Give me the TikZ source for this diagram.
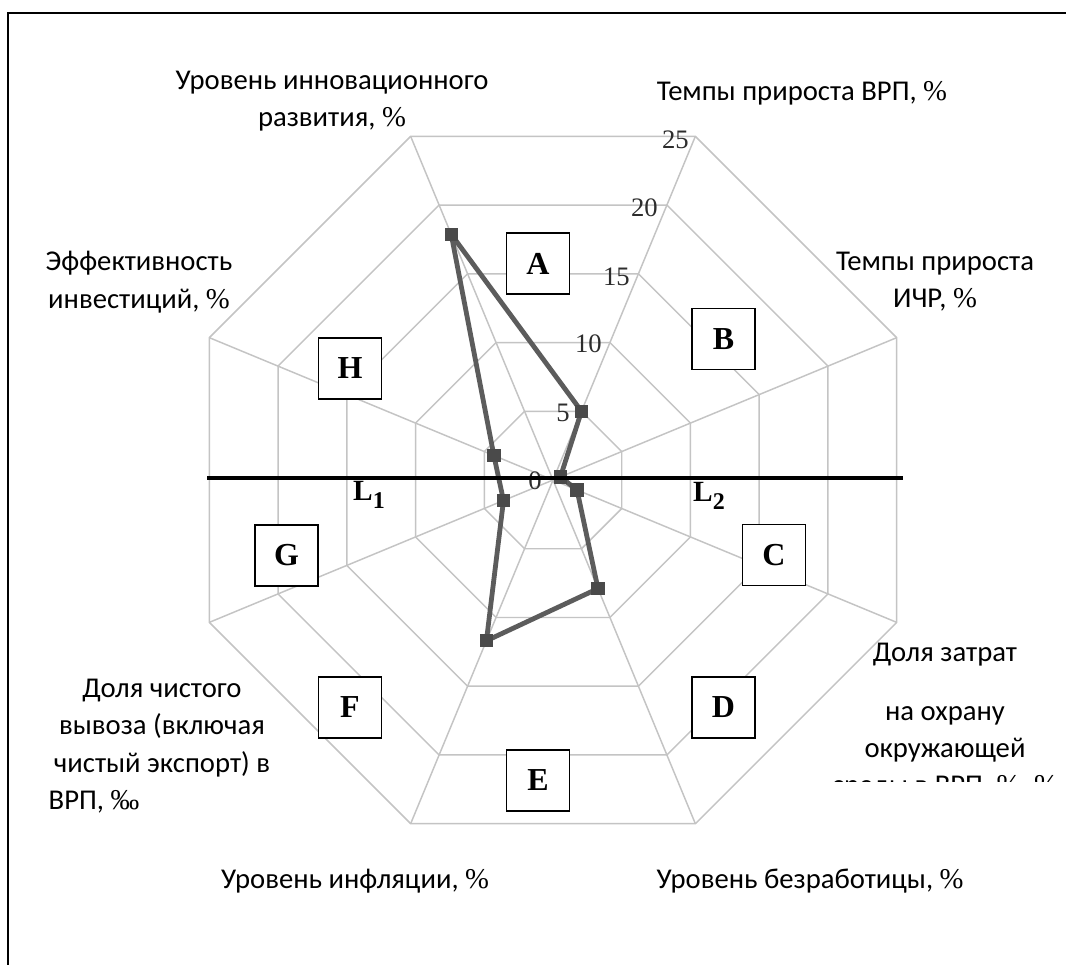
\documentclass[tikz,border=0pt]{standalone}
\usepackage{fontspec}
\setmainfont{Carlito}
\newfontfamily\tnr{Liberation Serif}
\newcommand\pct{{\tnr\%}}
\definecolor{gridc}{RGB}{196,196,196}
\definecolor{datac}{RGB}{92,92,92}
\definecolor{markc}{RGB}{74,74,74}
\definecolor{tickc}{RGB}{45,45,45}
\begin{document}
\begin{tikzpicture}[x=0.75pt,y=-0.75pt,
  gridline/.style={draw=gridc,line width=1.1pt,line join=miter},
  dataline/.style={draw=datac,line width=3.6pt,line join=round},
  mk/.style={rectangle,fill=markc,minimum size=10pt,inner sep=0pt},
  hline/.style={draw=black,line width=3.4pt},
  lbox/.style={rectangle,draw=black,fill=white,line width=1.1pt,minimum width=47pt,minimum height=45.5pt,inner sep=0pt,font=\tnr\bfseries\fontsize{24}{24}\selectfont},
  tick/.style={anchor=east,inner sep=0pt,text=tickc,font=\tnr\fontsize{20}{20}\selectfont},
  lab/.style={align=center,inner sep=0pt,font=\fontsize{21.5}{28}\selectfont},
  llab/.style={inner sep=0pt,font=\tnr\bfseries\fontsize{22}{22}\selectfont}]
\useasboundingbox (0,0) rectangle (1066,965);
\fill[white] (0,0) rectangle (1066,965);
% frame
\draw[line width=1.6pt] (1066,13) -- (8,13) -- (8,965);
% radar grid
\coordinate (O) at (553,480);
\begin{scope}[shift={(553,480)},yscale=-1]
  \foreach \k in {1,...,5}{
    \draw[gridline] (22.5:{74.4*\k}) -- (67.5:{74.4*\k}) -- (112.5:{74.4*\k}) -- (157.5:{74.4*\k}) -- (202.5:{74.4*\k}) -- (247.5:{74.4*\k}) -- (292.5:{74.4*\k}) -- (337.5:{74.4*\k}) -- cycle;
  }
  \foreach \a in {22.5,67.5,...,337.5}{
    \draw[gridline] (0,0) -- (\a:372);
  }
  \coordinate (d1) at (67.5:74.4);
  \coordinate (d2) at (22.5:8);
  \coordinate (d3) at (-22.5:26);
  \coordinate (d4) at (-67.5:117.5);
  \coordinate (d5) at (-112.5:174);
  \coordinate (d6) at (-157.5:53.6);
  \coordinate (d7) at (157.5:64);
  \coordinate (d8) at (112.5:266);
\end{scope}
% tick labels
\node[tick] (t0)  at (542,481) {0};
\node[tick] (t5)  at (570,413) {5};
\node[tick] (t10) at (602,344) {10};
\node[tick] (t15) at (630,277) {15};
\node[tick] (t20) at (658,208) {20};
\node[tick] (t25) at (689,140) {25};
% data
\draw[dataline] (d1) -- (d2) -- (d3) -- (d4) -- (d5) -- (d6) -- (d7) -- (d8) -- cycle;
\foreach \i in {1,...,8}{ \node[mk] (m\i) at (d\i) {}; }
% horizontal line
\coordinate (H0) at (207,478);
\coordinate (H1) at (903,478);
\draw[hline] (H0) -- (H1);
\node[llab] (L1) at (369,495) {L\raisebox{-6pt}{\fontsize{18}{18}\selectfont 1}};
\node[llab] (L2) at (709,496) {L\raisebox{-6pt}{\fontsize{18}{18}\selectfont 2}};
% sector boxes
\node[lbox] (A) at (538,263.5) {A};
\node[lbox] (B) at (723.5,339) {B};
\node[lbox] (C) at (774,555) {C};
\node[lbox] (D) at (723.5,707.5) {D};
\node[lbox] (E) at (538,780.5) {E};
\node[lbox] (F) at (350,707.5) {F};
\node[lbox] (G) at (286.5,555.5) {G};
\node[lbox] (Hb) at (350,368.5) {H};
% axis labels
\node[lab] (lInn) at (332,101) {Уровень инновационного\\развития, \pct};
\node[lab] (lVRP) at (802,93) {Темпы прироста ВРП, \pct};
\node[lab] (lICR) at (935,281.5) {Темпы прироста\\ИЧР, \pct};
\node[lab] (lEff) at (139,282) {Эффективность\\инвестиций, \pct};
\node[lab] (lZat) at (945,655) {Доля затрат};
\begin{scope}
  \clip (780,690) rectangle (1066,781);
  \node[lab] (lZat2) at (945,753) {на охрану\\окружающей\\среды в ВРП, \pct, \pct};
\end{scope}
\node[lab] (lBez) at (810,881) {Уровень безработицы, \pct};
\node[lab] (lInf) at (355,881) {Уровень инфляции, \pct};
\node[lab] (lVyv) at (162,746) {Доля чистого\\вывоза (включая\\чистый экспорт) в\\\makebox[170pt][l]{ВРП, {\tnr ‰}}};
\end{tikzpicture}
\end{document}
